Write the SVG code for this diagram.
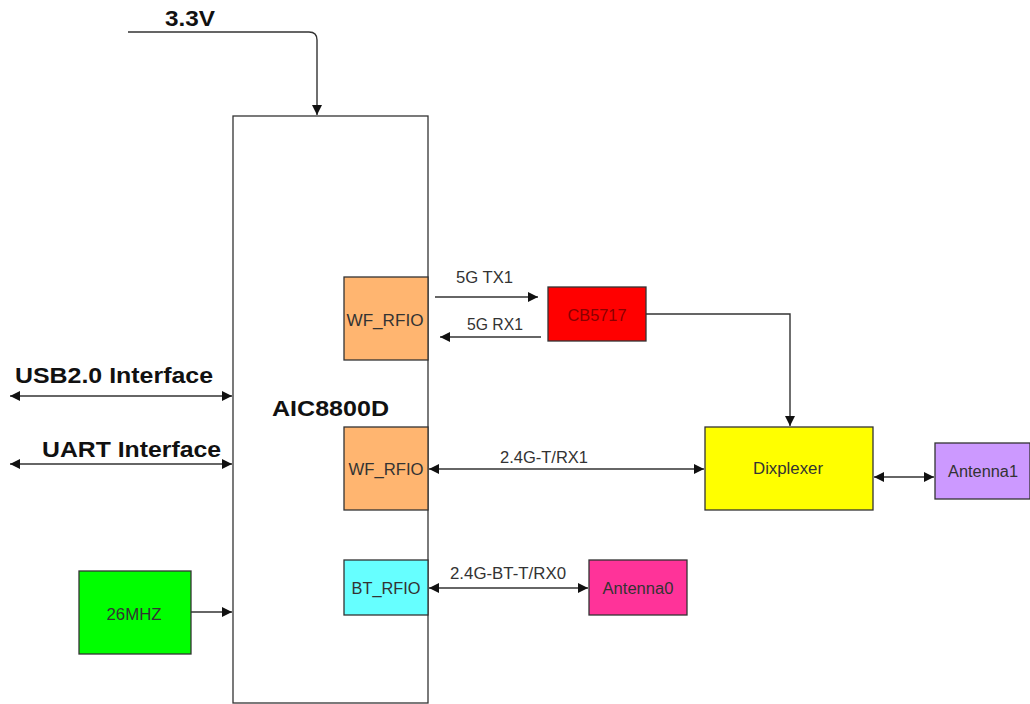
<svg xmlns="http://www.w3.org/2000/svg" width="1030" height="704" viewBox="0 0 1030 704">
<style>
.box{stroke:#333;stroke-width:1.3}
.t{font-family:"Liberation Sans",Arial,sans-serif;font-size:16px;fill:#333;text-anchor:middle}
.b{font-family:"Liberation Sans",Arial,sans-serif;font-size:22px;font-weight:bold;fill:#111}
.e{fill:none;stroke:#333;stroke-width:1.4}
.l{font-family:"Liberation Sans",Arial,sans-serif;font-size:16px;fill:#333}
</style>
<defs>
<marker id="ah" viewBox="0 0 10 10" refX="10" refY="5" markerWidth="10" markerHeight="10" markerUnits="userSpaceOnUse" orient="auto-start-reverse">
<path d="M0,0 L10,5 L0,10 Z" fill="#111"/>
</marker>
</defs>
<rect width="1030" height="704" fill="#fff"/>
<g id="aic8800d"><rect class="box" x="233" y="116" width="195" height="587" fill="#fff"/><text class="b" x="272" y="416" textLength="117" lengthAdjust="spacingAndGlyphs">AIC8800D</text></g>
<g id="wf_rfio1"><rect class="box" x="344" y="277" width="84" height="83" fill="#FFB570"/><text class="t" x="385" y="326" textLength="77" lengthAdjust="spacingAndGlyphs">WF_RFIO</text></g>
<g id="wf_rfio2"><rect class="box" x="344" y="427" width="84" height="83" fill="#FFB570"/><text class="t" x="386" y="475" textLength="75" lengthAdjust="spacingAndGlyphs">WF_RFIO</text></g>
<g id="bt_rfio"><rect class="box" x="344" y="560" width="84" height="55" fill="#66FFFF"/><text class="t" x="386" y="594" textLength="69" lengthAdjust="spacingAndGlyphs">BT_RFIO</text></g>
<g id="cb5717"><rect class="box" x="548" y="287" width="98" height="54" fill="#FF0000"/><text class="t" x="597" y="321" textLength="59" lengthAdjust="spacingAndGlyphs" style="fill:#8B0000">CB5717</text></g>
<g id="dixplexer"><rect class="box" x="705" y="427" width="168" height="83" fill="#FFFF00"/><text class="t" x="788" y="474" textLength="70" lengthAdjust="spacingAndGlyphs">Dixplexer</text></g>
<g id="antenna1"><rect class="box" x="935" y="443" width="95" height="56" fill="#CC99FF"/><text class="t" x="983" y="477" textLength="70" lengthAdjust="spacingAndGlyphs">Antenna1</text></g>
<g id="antenna0"><rect class="box" x="589" y="560" width="98" height="55" fill="#FF3399"/><text class="t" x="638" y="594" textLength="71" lengthAdjust="spacingAndGlyphs">Antenna0</text></g>
<g id="osc26mhz"><rect class="box" x="79" y="571" width="112" height="83" fill="#00FF00"/><text class="t" x="134" y="620" textLength="55" lengthAdjust="spacingAndGlyphs">26MHZ</text></g>
<g id="connectors">
<path class="e" d="M128,32 H309 Q317,32 317,40 V115" marker-end="url(#ah)"/>
<path class="e" d="M10,396 H232" marker-start="url(#ah)" marker-end="url(#ah)"/>
<path class="e" d="M10,464 H232" marker-start="url(#ah)" marker-end="url(#ah)"/>
<path class="e" d="M191,612 H232" marker-end="url(#ah)"/>
<path class="e" d="M435,297 H538" marker-end="url(#ah)"/>
<path class="e" d="M541,337 H440" marker-end="url(#ah)"/>
<path class="e" d="M646,314 H790 V426" marker-end="url(#ah)"/>
<path class="e" d="M429,469 H704" marker-start="url(#ah)" marker-end="url(#ah)"/>
<path class="e" d="M874,477 H934" marker-start="url(#ah)" marker-end="url(#ah)"/>
<path class="e" d="M429,588 H588" marker-start="url(#ah)" marker-end="url(#ah)"/>
<text class="b" x="165" y="26" textLength="50" lengthAdjust="spacingAndGlyphs">3.3V</text>
<text class="b" x="15" y="383" textLength="198" lengthAdjust="spacingAndGlyphs">USB2.0 Interface</text>
<text class="b" x="42" y="457" textLength="179" lengthAdjust="spacingAndGlyphs">UART Interface</text>
<text class="l" x="456" y="283" textLength="57" lengthAdjust="spacingAndGlyphs">5G TX1</text>
<text class="l" x="467" y="330" textLength="56" lengthAdjust="spacingAndGlyphs">5G RX1</text>
<text class="l" x="500" y="463" textLength="88" lengthAdjust="spacingAndGlyphs">2.4G-T/RX1</text>
<text class="l" x="450" y="579" textLength="116" lengthAdjust="spacingAndGlyphs">2.4G-BT-T/RX0</text>
</g>
</svg>
